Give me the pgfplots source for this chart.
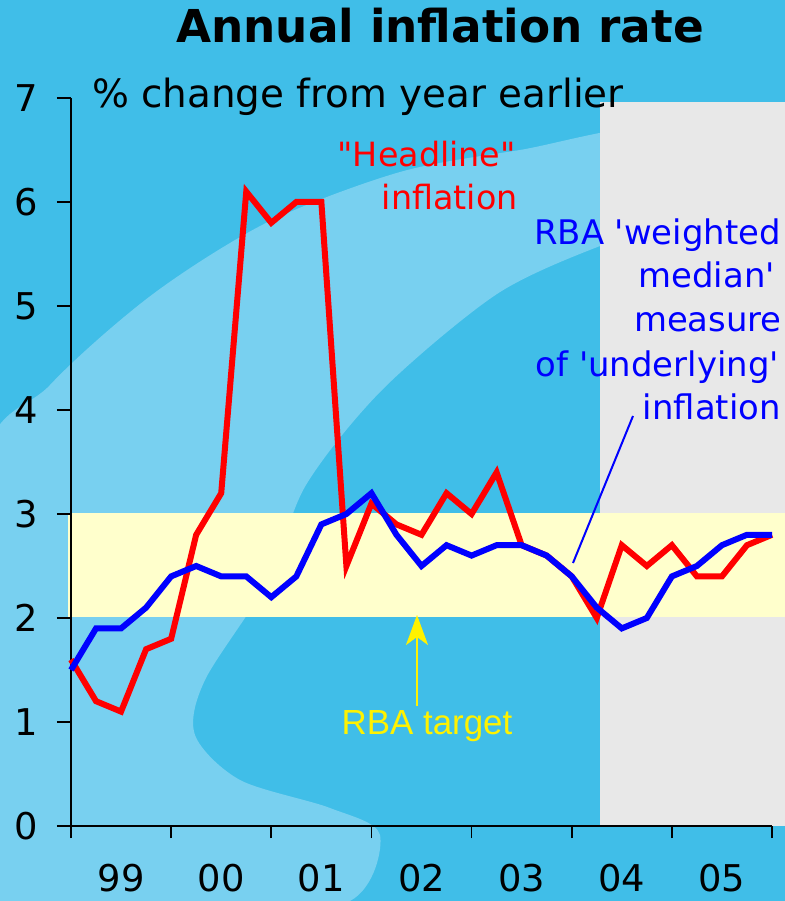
\documentclass[border=0pt]{standalone}
\usepackage{fontspec}
\usepackage{pgfplots}
\pgfplotsset{compat=1.18}
\usetikzlibrary{arrows.meta}
\setmainfont{DejaVu Sans}
\newfontfamily\lab{DejaVu Sans}
\newfontfamily\arial{Liberation Sans}

\definecolor{skyblue}{HTML}{40BEE8}
\definecolor{lightsky}{HTML}{78D0F0}
\definecolor{fcgray}{HTML}{E8E8E8}
\definecolor{band}{HTML}{FFFFCC}

\begin{document}
\begin{tikzpicture}[x=1bp,y=1bp]
\path[use as bounding box] (0,0) rectangle (785,901);
% backdrop drawn in pixel units, origin top left
\begin{scope}[shift={(0,901)}, yscale=-1]
\fill[skyblue] (0,0) rectangle (785,901);
% light crescent of the swirl
\fill[lightsky] plot[smooth cycle, tension=0.5] coordinates {
  (-20,480) (50,385) (153,294) (268,222) (400,172) (520,150) (660,130)
  (660,230) (600,246) (497,294) (383,389) (306,485) (268,581) (205,680)
  (195,735) (240,780) (330,808) (380,835) (350,901) (200,930) (-20,920)};
% forecast period and target band
\fill[fcgray] (600,102) rectangle (785,826);
\fill[band] (68,513) rectangle (785,617);
\end{scope}

\begin{axis}[
  at={(71bp,75bp)}, anchor=south west,
  scale only axis, width=701bp, height=728bp,
  xmin=0, xmax=28, ymin=0, ymax=7,
  axis x line*=bottom, axis y line*=left,
  axis line style={black, line width=1.8bp},
  xtick={2,6,...,26}, xticklabels={99,00,01,02,03,04,05},
  minor xtick={0,4,...,28},
  ytick={0,...,7},
  tick align=outside,
  major tick length=14bp, minor tick length=12bp,
  tick style={black, line width=1.8bp},
  major x tick style={draw=none},
  ticklabel style={font=\lab\fontsize{37}{40}\selectfont},
  xticklabel style={inner sep=0pt, text depth=0pt, yshift=-24bp},
  yticklabel style={xshift=-16bp},
  /pgf/number format/assume math mode=true,
  clip=false,
]
\addplot[red, line width=6bp] coordinates {
(0,1.6) (1,1.2) (2,1.1) (3,1.7) (4,1.8)
(5,2.8) (6,3.2) (7,6.1) (8,5.8) (9,6.0)
(10,6.0) (11,2.5) (12,3.1) (13,2.9) (14,2.8)
(15,3.2) (16,3.0) (17,3.4) (18,2.7) (19,2.6)
(20,2.4) (21,2.0) (22,2.7) (23,2.5) (24,2.7)
(25,2.4) (26,2.4) (27,2.7) (28,2.8)
};
\addplot[blue, line width=6bp] coordinates {
(0,1.5) (1,1.9) (2,1.9) (3,2.1) (4,2.4)
(5,2.5) (6,2.4) (7,2.4) (8,2.2) (9,2.4)
(10,2.9) (11,3.0) (12,3.2) (13,2.8) (14,2.5)
(15,2.7) (16,2.6) (17,2.7) (18,2.7) (19,2.6)
(20,2.4) (21,2.1) (22,1.9) (23,2.0) (24,2.4)
(25,2.5) (26,2.7) (27,2.8) (28,2.8)
};
\end{axis}

\begin{scope}[shift={(0,901)}, yscale=-1]
\node[anchor=base, font=\lab\bfseries\fontsize{45.5}{50}\selectfont] at (440,43) {Annual inflation rate};
\node[anchor=base west, inner sep=0pt, font=\lab\fontsize{39}{44}\selectfont] at (92,108) {\% change from year earlier};

\begin{scope}[every node/.style={anchor=base east, inner sep=0pt, font=\lab\fontsize{33.5}{40}\selectfont}]
\node[red] at (516,167) {"Headline"};
\node[red] at (518,210) {inflation};
\end{scope}

\begin{scope}[every node/.style={anchor=base east, inner sep=0pt, text=blue, font=\lab\fontsize{34}{40}\selectfont}]
\node at (781,245) {RBA 'weighted};
\node at (775,288) {median'};
\node at (782,332) {measure};
\node at (779,377) {of 'underlying'};
\node at (781,420) {inflation};
\end{scope}
\draw[blue, line width=2bp] (573,563) -- (633,416);

\draw[yellow, line width=2.5bp, -{Stealth[length=30bp,width=22bp,inset=8bp]}] (417,706) -- (417,615);
\node[anchor=base, inner sep=0pt, text=yellow, font=\arial\fontsize{35}{40}\selectfont] at (427,735) {RBA target};
\end{scope}
\end{tikzpicture}
\end{document}
